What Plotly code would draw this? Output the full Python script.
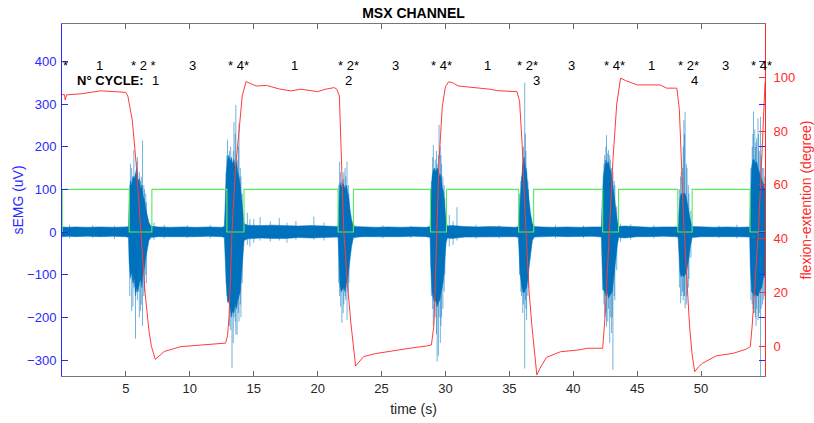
import plotly.graph_objects as go

FONT = "Liberation Sans, Arial, sans-serif"
BLUE_AX = "#2a2aff"
RED_AX = "#ff2a2a"
EMG_COLOR = "#0072BD"

# ---- sEMG envelope (uV): time (s), upper and lower edge of the dense trace ----
emg_t = [0.0, 0.5, 1.0, 2.0, 3.0, 4.0, 5.0, 5.2,
         5.25, 5.35, 5.45, 5.55, 5.65, 5.75, 5.85, 5.95, 6.05, 6.15, 6.25, 6.35, 6.45, 6.55, 6.65, 6.8, 6.95,
         7.5, 8.5, 9.5, 10.5, 11.5, 12.5, 12.7,
         12.75, 12.85, 12.95, 13.05, 13.15, 13.25, 13.35, 13.45, 13.55, 13.65, 13.75, 13.85, 13.95, 14.05, 14.15, 14.25,
         14.5, 15.5, 16.5, 17.5, 18.5, 19.5, 20.5, 21.5, 21.6,
         21.65, 21.75, 21.85, 21.95, 22.05, 22.15, 22.25, 22.35, 22.45, 22.55, 22.65, 22.8,
         23.5, 24.5, 25.5, 26.5, 27.5, 28.5, 28.8,
         28.85, 28.95, 29.05, 29.15, 29.25, 29.35, 29.45, 29.55, 29.65, 29.75, 29.85, 29.95, 30.05, 30.15,
         30.5, 31.5, 32.5, 33.5, 34.5, 35.5, 35.7,
         35.75, 35.85, 35.95, 36.05, 36.15, 36.25, 36.35, 36.45, 36.55, 36.65, 36.8, 36.95,
         37.5, 38.5, 39.5, 40.5, 41.5, 42.2,
         42.25, 42.35, 42.45, 42.55, 42.65, 42.75, 42.85, 42.95, 43.05, 43.15, 43.25, 43.35, 43.45, 43.55,
         44.0, 45.0, 46.0, 47.0, 48.0, 48.2,
         48.25, 48.35, 48.45, 48.55, 48.65, 48.75, 48.85, 48.95, 49.05, 49.15, 49.3,
         50.0, 51.0, 52.0, 53.0, 53.8,
         53.85, 53.95, 54.05, 54.15, 54.25, 54.35, 54.45, 54.55, 54.65, 54.75, 54.85, 55.0]
emg_hi = [12, 11, 12, 11, 12, 11, 12, 13,
          60, 120, 110, 130, 125, 140, 150, 120, 125, 100, 110, 85, 75, 55, 40, 22, 14,
          12, 11, 12, 11, 12, 11, 13,
          50, 140, 170, 180, 165, 175, 160, 170, 150, 165, 140, 130, 110, 80, 45, 20,
          16, 15, 16, 15, 14, 15, 14, 13, 13,
          60, 115, 105, 115, 110, 100, 110, 95, 75, 50, 30, 13,
          12, 11, 12, 11, 12, 11, 13,
          70, 130, 145, 150, 140, 150, 145, 130, 135, 105, 95, 60, 25, 14,
          15, 13, 12, 13, 12, 11, 13,
          40, 90, 120, 160, 176, 150, 140, 100, 70, 45, 20, 13,
          12, 11, 12, 11, 12, 12,
          60, 130, 150, 169, 160, 165, 150, 140, 120, 100, 80, 50, 25, 13,
          14, 12, 11, 12, 11, 12,
          40, 80, 91, 85, 91, 90, 80, 60, 45, 30, 13,
          12, 11, 12, 11, 12,
          70, 150, 169, 170, 160, 165, 150, 140, 130, 120, 110, 100]
emg_lo = [-11, -10, -11, -10, -11, -10, -11, -13,
          -70, -105, -95, -120, -110, -150, -130, -140, -120, -110, -130, -90, -85, -60, -45, -20, -13,
          -11, -10, -11, -11, -10, -11, -13,
          -50, -120, -160, -165, -175, -200, -185, -190, -170, -180, -160, -150, -140, -100, -60, -20,
          -16, -14, -15, -15, -13, -14, -13, -12, -13,
          -70, -125, -140, -135, -130, -140, -120, -110, -90, -60, -35, -13,
          -11, -10, -11, -11, -10, -11, -13,
          -80, -140, -155, -165, -160, -175, -165, -160, -150, -130, -110, -70, -25, -14,
          -15, -12, -11, -11, -11, -11, -13,
          -45, -100, -125, -140, -143, -135, -130, -110, -80, -50, -20, -12,
          -11, -10, -11, -11, -10, -12,
          -70, -136, -140, -150, -140, -155, -150, -145, -140, -120, -95, -60, -30, -13,
          -14, -11, -11, -10, -11, -12,
          -45, -95, -105, -100, -105, -100, -95, -80, -60, -35, -13,
          -11, -10, -11, -11, -12,
          -80, -140, -144, -150, -145, -150, -150, -140, -135, -130, -110, -100]

# ---- isolated sEMG spikes (uV): time, lowest and highest excursion ----
spike_t = [5.30, 5.45, 5.62, 5.75, 5.90, 6.05, 6.20, 6.30, 6.45, 6.60,
           5.35, 5.55, 5.85, 6.15, 6.40, 6.55,
           12.85, 12.95, 13.10, 13.30, 13.45, 13.60, 13.70, 13.85, 14.00, 14.10,
           12.90, 13.20, 13.40, 13.55, 13.80, 13.95,
           21.65, 21.72, 21.90, 22.05, 22.20, 22.30, 22.45,
           21.80, 22.00, 22.15, 22.40,
           28.90, 29.05, 29.20, 29.35, 29.45, 29.50, 29.65, 29.80, 29.95,
           29.00, 29.30, 29.60, 29.70, 29.90,
           35.80, 35.95, 36.05, 36.20, 36.25, 36.35, 36.50,
           35.90, 36.10, 36.30, 36.45,
           42.30, 42.45, 42.60, 42.75, 42.90, 43.00, 43.10, 43.25, 43.40,
           42.40, 42.55, 42.70, 42.85, 43.05, 43.20,
           48.30, 48.40, 48.55, 48.65, 48.75, 48.90, 49.05, 49.20,
           48.45, 48.60, 48.70, 48.85, 49.00,
           53.90, 54.05, 54.10, 54.25, 54.35, 54.45, 54.55, 54.65, 54.80, 54.95,
           54.00, 54.20, 54.30, 54.50, 54.70, 54.90,
           0.6, 2.4, 4.1, 7.2, 8.0, 9.8, 11.6, 14.5, 14.7, 15.0, 15.5, 16.3, 17.0,
           17.6, 18.3, 19.7, 20.5, 22.9, 25.1, 27.3, 30.3, 30.6, 30.9, 32.4, 34.2,
           38.6, 40.8, 43.7, 44.5, 46.3, 51.4, 52.8]
spike_lo = [-150, -185, -130, -250, -160, -200, -170, -220, -140, -120,
            -110, -175, -140, -185, -150, -100,
            -120, -166, -220, -319, -200, -240, -241, -210, -200, -120,
            -150, -230, -260, -210, -190, -170,
            -120, -150, -213, -170, -160, -206, -120,
            -175, -190, -150, -140,
            -150, -220, -200, -304, -290, -200, -220, -180, -100,
            -180, -240, -260, -200, -140,
            -100, -150, -190, -320, -160, -206, -130,
            -140, -170, -180, -150,
            -136, -200, -222, -180, -200, -237, -323, -160, -90,
            -170, -190, -210, -260, -200, -150,
            -130, -167, -140, -150, -179, -150, -110, -60,
            -150, -160, -150, -170, -130,
            -160, -180, -190, -200, -180, -206, -190, -400, -170, -150,
            -170, -190, -220, -200, -180, -160,
            -15, -14, -16, -18, -15, -14, -15, -30, -34, -25, -20, -22, -20,
            -25, -18, -18, -20, -15, -15, -14, -34, -30, -20, -16, -15,
            -15, -14, -23, -18, -15, -14, -15]
spike_hi = [110, 150, 192, 120, 175, 140, 130, 214, 100, 70,
            160, 130, 165, 120, 110, 90,
            140, 216, 190, 150, 258, 298, 170, 255, 130, 90,
            180, 200, 190, 230, 200, 150,
            110, 165, 120, 140, 130, 165, 90,
            140, 125, 150, 110,
            120, 204, 170, 160, 180, 251, 180, 130, 80,
            175, 190, 200, 160, 110,
            90, 130, 160, 350, 231, 150, 100,
            120, 200, 190, 120,
            100, 180, 227, 192, 170, 150, 140, 110, 60,
            160, 200, 185, 180, 130, 120,
            100, 130, 150, 262, 282, 150, 90, 50,
            140, 200, 230, 160, 110,
            150, 230, 282, 200, 220, 266, 190, 270, 150, 130,
            200, 240, 210, 230, 180, 150,
            17, 16, 15, 22, 17, 16, 17, 45, 30, 30, 35, 25, 33,
            22, 26, 36, 22, 17, 16, 15, 40, 25, 58, 17, 16,
            16, 15, 20, 18, 16, 15, 17]

# ---- movement phase marker (uV level): switching times and levels ----
phase_sw_t = [0.0, 0.02, 5.26, 7.03, 12.9, 14.24, 21.6, 22.8, 28.83, 30.08,
              35.73, 36.9, 42.3, 43.54, 48.18, 49.3, 53.83, 55.0]
phase_sw_v = [0, 100, 0, 100, 0, 100, 0, 100, 0, 100,
              0, 100, 0, 100, 0, 100, 0, 0]

# ---- joint angle (degree) ----
angle_t = [0.0, 0.2, 0.25, 0.35, 1.5, 3.0, 4.5, 5.0, 5.15, 5.3, 5.5, 5.8, 6.0, 6.17, 6.5,
           6.8, 7.0, 7.3, 7.5, 8.0, 9.3, 10.9, 12.8, 12.95, 13.07, 13.3, 13.55, 13.85,
           14.1, 14.4, 14.7, 15.2, 16.0, 17.0, 17.9, 18.7, 20.0, 20.6, 21.3, 21.5, 21.7,
           22.05, 22.3, 22.6, 22.97, 23.3, 23.6, 24.5, 25.5, 26.5, 27.5, 28.5, 28.9, 29.1,
           29.3, 29.5, 29.75, 30.0, 30.26, 30.65, 31.0, 32.2, 33.5, 34.0, 35.6, 35.8,
           36.0, 36.3, 36.55, 36.77, 37.0, 37.15, 37.4, 37.9, 39.0, 40.5, 41.1, 42.3,
           42.5, 42.8, 43.1, 43.4, 43.7, 44.1, 45.0, 46.8, 47.3, 48.1, 48.3, 48.67, 48.9,
           49.1, 49.3, 49.5, 49.8, 50.1, 51.2, 52.5, 53.5, 53.85, 54.0, 54.2, 54.48,
           54.75, 55.0]
angle_v = [93.5, 93.5, 91.5, 93.4, 93.8, 94.9, 94.5, 94.3, 93.0, 89.5, 84.0, 68.0, 55.0, 42.5, 20.0,
           6.0, 0.0, -4.7, -3.8, -1.8, 0.0, 0.6, 1.3, 4.0, 11.0, 42.5, 65.0, 80.0,
           93.0, 98.3, 97.6, 96.7, 96.9, 95.6, 94.9, 95.5, 94.6, 95.5, 96.1, 95.5, 93.0,
           42.5, 25.0, 8.8, -7.2, -5.5, -3.7, -2.6, -1.8, -1.0, -0.4, 0.2, 0.6, 8.0,
           42.5, 69.0, 89.0, 96.5, 98.3, 97.7, 96.7, 96.2, 95.5, 95.0, 94.6, 91.0,
           75.0, 42.5, 20.0, 7.4, -4.0, -10.5, -8.0, -4.0, -1.9, -1.2, -0.6, -0.6,
           12.0, 42.5, 69.0, 90.0, 99.6, 98.7, 97.1, 97.1, 95.9, 95.9, 88.0, 43.0, 22.0,
           7.4, -3.0, -9.3, -7.5, -6.2, -3.4, -2.5, -1.0, 0.0, 8.0, 21.0, 42.5,
           70.0, 98.0]

# ---- text marks ----
phase_lbl_t = [0.25, 2.97, 6.4, 10.2, 13.8, 18.2, 22.4, 26.1, 29.7, 33.3, 36.4,
               39.9, 43.2, 46.1, 49.0, 51.9, 54.7]
phase_lbl = ["*", "1", "* 2 *", "3", "* 4*", "1", "* 2*", "3", "* 4*", "1", "* 2*",
             "3", "* 4*", "1", "* 2*", "3", "* 4*"]
cycle_t = [7.35, 22.4, 37.1, 49.5]
cycle_lbl = ["1", "2", "3", "4"]
lbl_row1_y = 390
lbl_row2_y = 354

x_ticks = [5, 10, 15, 20, 25, 30, 35, 40, 45, 50]
emg_ticks = [-300, -200, -100, 0, 100, 200, 300, 400]
angle_ticks = [0, 20, 40, 60, 80, 100]

fig = go.Figure()

# dense sEMG trace as a filled envelope
fig.add_trace(go.Scatter(
    x=emg_t + emg_t[::-1], y=emg_hi + emg_lo[::-1],
    fill="toself", fillcolor=EMG_COLOR, mode="lines",
    line=dict(color=EMG_COLOR, width=0.5), hoverinfo="skip", showlegend=False))

# isolated spikes
sx, sy = [], []
for t, lo, hi in zip(spike_t, spike_lo, spike_hi):
    sx += [t, t, None]
    sy += [lo, hi, None]
fig.add_trace(go.Scatter(x=sx, y=sy, mode="lines",
                         line=dict(color="rgba(0,114,189,0.55)", width=1),
                         hoverinfo="skip", showlegend=False))

# phase marker
fig.add_trace(go.Scatter(x=phase_sw_t, y=phase_sw_v, mode="lines",
                         line=dict(color="rgb(90,235,90)", width=1.1, shape="hv"),
                         showlegend=False))

# joint angle on the right axis
fig.add_trace(go.Scatter(x=angle_t, y=angle_v, mode="lines", yaxis="y2",
                         line=dict(color="#ff3b3b", width=1),
                         showlegend=False))

LBL_FONT = dict(family=FONT, size=13, color="black")
annotations = []
for t, s in zip(phase_lbl_t, phase_lbl):
    annotations.append(dict(x=t, y=lbl_row1_y, xref="x", yref="y", text=s,
                            showarrow=False, font=LBL_FONT))
annotations.append(dict(x=6.6, y=lbl_row2_y, xref="x", yref="y", text="<b>N° CYCLE:</b>",
                        xanchor="right", showarrow=False, font=LBL_FONT))
for t, s in zip(cycle_t, cycle_lbl):
    annotations.append(dict(x=t, y=lbl_row2_y, xref="x", yref="y", text=s,
                            showarrow=False, font=LBL_FONT))

fig.update_layout(
    width=814, height=423,
    margin=dict(l=62, r=49, t=24, b=47),
    paper_bgcolor="white", plot_bgcolor="white",
    font=dict(family=FONT, size=13, color="#262626"),
    title=dict(text="<b>MSX CHANNEL</b>", x=0.5, xref="paper", xanchor="center",
               y=1 - 13 / 423, yref="container", yanchor="middle",
               font=dict(family=FONT, size=14, color="black")),
    xaxis=dict(range=[0, 55], tickvals=x_ticks, ticks="inside", ticklen=5,
               tickcolor="#666", linecolor="#777", linewidth=1, showline=True,
               mirror="ticks", showgrid=False, zeroline=False, automargin=False,
               tickfont=dict(family=FONT, size=13, color="#262626"),
               title=dict(text="time (s)", standoff=9,
                          font=dict(family=FONT, size=14, color="#262626"))),
    yaxis=dict(range=[-337.5, 487.5], tickvals=emg_ticks, ticks="inside", ticklen=6,
               tickcolor=BLUE_AX, linecolor=BLUE_AX, linewidth=1, showline=True,
               mirror="ticks", showgrid=False, zeroline=False, ticklabelstandoff=2,
               automargin=False,
               tickfont=dict(family=FONT, size=13, color=BLUE_AX),
               title=dict(text="sEMG (uV)", standoff=0,
                          font=dict(family=FONT, size=14, color=BLUE_AX))),
    yaxis2=dict(range=[-10.9, 119.7], tickvals=angle_ticks, ticks="inside", ticklen=6,
                tickcolor=RED_AX, linecolor=RED_AX, linewidth=1, showline=True,
                overlaying="y", side="right", showgrid=False, zeroline=False,
                ticklabelstandoff=5, automargin=False,
                tickfont=dict(family=FONT, size=13, color=RED_AX),
                title=dict(text="flexion-extention (degree)", standoff=13,
                           font=dict(family=FONT, size=14, color=RED_AX))),
    annotations=annotations,
)

fig.write_html("out.html")
